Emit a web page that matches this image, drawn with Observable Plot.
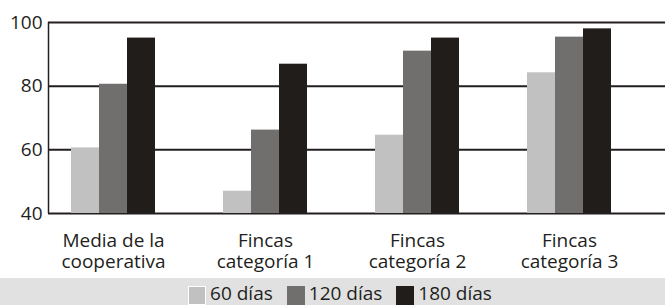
<!DOCTYPE html>
<html>
<head>
<meta charset="utf-8">
<script src="https://cdn.jsdelivr.net/npm/d3@7"></script>
<script src="https://cdn.jsdelivr.net/npm/@observablehq/plot@0.6"></script>
<style>
  html, body { margin: 0; padding: 0; background: #fff; }
  body { width: 665px; font-family: "Open Sans", sans-serif; }
  #chart { position: relative; width: 665px; height: 278px; }
  #chart > svg, #chart > figure { position: absolute; left: 0; top: 0; margin: 0; }
  #legend { position: relative; width: 665px; height: 27px; background: #e1e1e1;
            display: flex; justify-content: center; padding-left: 29px; box-sizing: border-box; }
  .item { display: flex; align-items: flex-start; margin-right: 14px; }
  .sw { width: 18px; height: 19px; margin-top: 8px; margin-right: 4px; box-sizing: border-box; }
  .lab { font-size: 19px; line-height: 19px; padding-top: 6px; color: #231f20; }
</style>
</head>
<body>
<div id="chart"></div>
<div id="legend"></div>
<script>
const categories = ["Media de la\ncooperativa", "Fincas\ncategoría 1", "Fincas\ncategoría 2", "Fincas\ncategoría 3"];
const series = ["60 días", "120 días", "180 días"];
const values60 = [60.6, 47.0, 64.6, 84.2];
const values120 = [80.6, 66.2, 91.0, 95.4];
const values180 = [95.1, 86.9, 95.1, 98.0];
const yTicks = [40, 60, 80, 100];
const colors = ["#c1c1c1", "#706f6e", "#211d1b"];

const seriesValues = [values60, values120, values180];
const data = [];
categories.forEach((c, i) => series.forEach((s, j) => data.push({cat: c, series: s, value: seriesValues[j][i]})));

const W = 665, H = 278, mt = 22, mb = 65, ml = 48;
const ink = "#231f20";

const back = Plot.plot({
  width: W, height: H, marginTop: mt, marginBottom: mb, marginLeft: ml, marginRight: 0,
  style: {fontFamily: "Open Sans", fontSize: "19px", color: ink, background: "transparent"},
  x: {domain: [0, 1], axis: null},
  y: {domain: [40, 100], ticks: yTicks, tickSize: 0, tickPadding: 6, label: null, tickFormat: d => String(d)},
  marks: [
    Plot.ruleY(yTicks, {stroke: ink, strokeWidth: 2}),
    Plot.ruleX([0], {y1: 40, y2: 100, stroke: ink, strokeWidth: 1.5})
  ]
});

const front = Plot.plot({
  width: W, height: H, marginTop: mt, marginBottom: mb, marginLeft: ml, marginRight: 31,
  style: {fontFamily: "Open Sans", fontSize: "19px", color: ink, background: "transparent"},
  fx: {domain: categories, paddingInner: 0.437, paddingOuter: 0.1375, axis: null},
  x: {domain: series, padding: 0, axis: null},
  y: {domain: [40, 100], axis: null},
  color: {domain: series, range: colors},
  marks: [
    Plot.barY(data, {fx: "cat", x: "series", y1: 40, y2: "value", fill: "series"}),
    Plot.text(categories, {fx: d => d, text: d => d, frameAnchor: "bottom", lineAnchor: "top",
      dy: 18.5, fontSize: 19, lineHeight: 1.1, fill: ink})
  ]
});

const chart = document.getElementById("chart");
chart.appendChild(back);
chart.appendChild(front);

const legend = document.getElementById("legend");
series.forEach((s, i) => {
  const item = document.createElement("div");
  item.className = "item";
  const sw = document.createElement("div");
  sw.className = "sw";
  sw.style.background = colors[i];
  if (i === 0) sw.style.border = "1px solid #fff";
  const lab = document.createElement("div");
  lab.className = "lab";
  lab.textContent = s;
  item.appendChild(sw);
  item.appendChild(lab);
  legend.appendChild(item);
});
</script>
</body>
</html>
